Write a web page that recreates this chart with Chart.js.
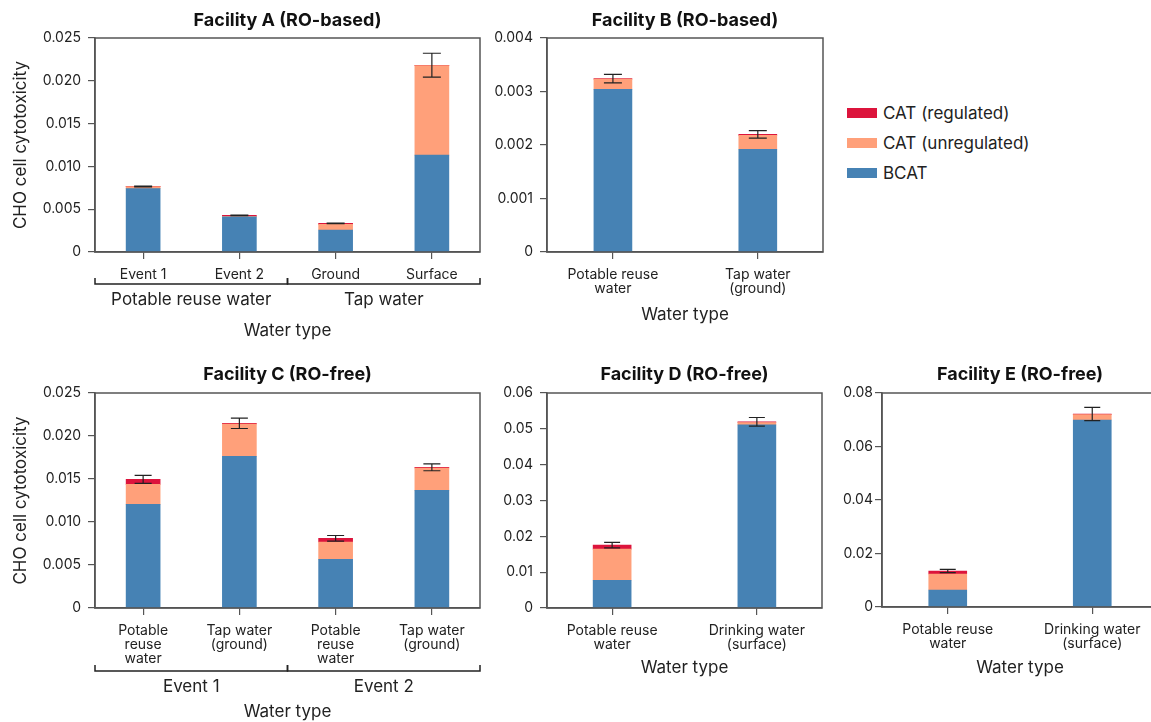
<!DOCTYPE html>
<html>
<head>
<meta charset="utf-8">
<script src="https://cdn.jsdelivr.net/npm/chart.js@4.4.0/dist/chart.umd.min.js"></script>
<style>
  html, body { margin:0; padding:0; background:#fff; width:1151px; height:722px; overflow:hidden; }
  canvas { position:absolute; }
  #legend { position:absolute; left:847px; top:98px; font:17px Inter, "Noto Sans", sans-serif; color:#222; }
  #legend .row { display:flex; align-items:center; height:30px; }
  #legend .sw { width:30px; height:10px; margin-right:6px; }
</style>
</head>
<body>
<canvas id="cA" width="490" height="345" style="left:0;top:0"></canvas>
<canvas id="cB" width="340" height="345" style="left:490px;top:0"></canvas>
<canvas id="cC" width="490" height="377" style="left:0;top:345px"></canvas>
<canvas id="cD" width="340" height="377" style="left:490px;top:345px"></canvas>
<canvas id="cE" width="330" height="377" style="left:830px;top:345px"></canvas>
<div id="legend"></div>
<script>
// series, bottom to top of each stack
const seriesNames = ['BCAT', 'CAT (unregulated)', 'CAT (regulated)'];
const seriesColors = ['#4682b4', '#ffa07a', '#dc143c'];
const legendOrder = [2, 1, 0];

// Facility A (RO-based)
const aLabels = ['Event 1', 'Event 2', 'Ground', 'Surface'];
const aBcat  = [0.0074, 0.0041, 0.00257, 0.01131];
const aUnreg = [0.00023, 0.00008, 0.00066, 0.01046];
const aReg   = [0.00003, 0.0001, 0.00011, 0.00005];
const aErr   = [0.00005, 0.00004, 0.00004, 0.0014];
const aGroups = ['Potable reuse water', 'Tap water'];
const aGroupSpans = [[0, 1], [2, 3]];
const aTicks = [0, 0.005, 0.01, 0.015, 0.02, 0.025];

// Facility B (RO-based)
const bLabels = [['Potable reuse', 'water'], ['Tap water', '(ground)']];
const bBcat  = [0.00304, 0.00192];
const bUnreg = [0.00019, 0.00026];
const bReg   = [0.00001, 0.00002];
const bErr   = [0.00008, 0.00007];
const bTicks = [0, 0.001, 0.002, 0.003, 0.004];

// Facility C (RO-free)
const cLabels = [['Potable', 'reuse', 'water'], ['Tap water', '(ground)'], ['Potable', 'reuse', 'water'], ['Tap water', '(ground)']];
const cBcat  = [0.01205, 0.01764, 0.00566, 0.01368];
const cUnreg = [0.00233, 0.00376, 0.00201, 0.0026];
const cReg   = [0.00058, 0.00007, 0.00043, 0.00008];
const cErr   = [0.00046, 0.0006, 0.00033, 0.0004];
const cGroups = ['Event 1', 'Event 2'];
const cGroupSpans = [[0, 1], [2, 3]];
const cTicks = [0, 0.005, 0.01, 0.015, 0.02, 0.025];

// Facility D (RO-free)
const dLabels = [['Potable reuse', 'water'], ['Drinking water', '(surface)']];
const dBcat  = [0.00774, 0.05112];
const dUnreg = [0.00868, 0.00065];
const dReg   = [0.00112, 0.00019];
const dErr   = [0.00075, 0.0012];
const dTicks = [0, 0.01, 0.02, 0.03, 0.04, 0.05, 0.06];

// Facility E (RO-free)
const eLabels = [['Potable reuse', 'water'], ['Drinking water', '(surface)']];
const eBcat  = [0.00636, 0.0699];
const eUnreg = [0.00598, 0.002];
const eReg   = [0.00112, 0.00025];
const eErr   = [0.0006, 0.0025];
const eTicks = [0, 0.02, 0.04, 0.06, 0.08];

Chart.defaults.font.family = 'Inter, "Noto Sans", sans-serif';
Chart.defaults.color = '#222';

const axisColor = '#555';

// frame, error bars, panel title, group brackets
const extras = {
  id: 'extras',
  afterDatasetsDraw(chart, args, o) {
    const {ctx, chartArea: a, scales: {x, y}} = chart;
    const sets = chart.data.datasets;
    ctx.save();
    ctx.strokeStyle = axisColor;
    ctx.lineWidth = 1.5;
    ctx.strokeRect(a.left, a.top, a.right - a.left, a.bottom - a.top);

    ctx.strokeStyle = '#222';
    ctx.lineWidth = 1.2;
    o.err.forEach((e, i) => {
      const total = sets.reduce((s, d) => s + d.data[i], 0);
      const px = x.getPixelForValue(i);
      const y1 = y.getPixelForValue(total + e);
      const y2 = y.getPixelForValue(total - e);
      const c = o.cap / 2;
      ctx.beginPath();
      ctx.moveTo(px, y1); ctx.lineTo(px, y2);
      ctx.moveTo(px - c, y1); ctx.lineTo(px + c, y1);
      ctx.moveTo(px - c, y2); ctx.lineTo(px + c, y2);
      ctx.stroke();
    });
    ctx.restore();
  },
  afterDraw(chart, args, o) {
    const {ctx, chartArea: a, scales: {x}} = chart;
    ctx.save();
    ctx.fillStyle = '#111';
    ctx.font = 'bold 18px Inter, "Noto Sans", sans-serif';
    ctx.textAlign = 'center';
    ctx.textBaseline = 'middle';
    ctx.fillText(o.title, (a.left + a.right) / 2, o.titleY);

    if (o.groups) {
      ctx.strokeStyle = '#222';
      ctx.lineWidth = 1.5;
      ctx.fillStyle = '#222';
      ctx.font = '17px Inter, "Noto Sans", sans-serif';
      o.groups.forEach((g, k) => {
        const [from, to] = o.spans[k];
        const x1 = x.getPixelForValue(from - 0.5);
        const x2 = x.getPixelForValue(to + 0.5);
        ctx.beginPath();
        ctx.moveTo(x1, o.bracketY - 6); ctx.lineTo(x1, o.bracketY);
        ctx.lineTo(x2, o.bracketY); ctx.lineTo(x2, o.bracketY - 6);
        ctx.stroke();
        ctx.fillText(g, (x1 + x2) / 2, o.groupY);
      });
    }
    ctx.restore();
  }
};

function panel(id, p) {
  const stacks = [p.bcat, p.unreg, p.reg];
  return new Chart(document.getElementById(id), {
    type: 'bar',
    data: {
      labels: p.labels.map((_, i) => i),
      datasets: stacks.map((v, k) => ({
        label: seriesNames[k],
        data: v,
        backgroundColor: seriesColors[k],
        borderWidth: 0,
        barThickness: p.barW
      }))
    },
    options: {
      responsive: false,
      animation: false,
      layout: { padding: { top: p.padTop, right: p.padRight, bottom: 0, left: 0 } },
      plugins: {
        legend: { display: false },
        tooltip: { enabled: false },
        extras: {
          title: p.title, titleY: p.titleY, err: p.err, cap: p.cap,
          groups: p.groups, spans: p.spans, bracketY: p.bracketY, groupY: p.groupY
        }
      },
      scales: {
        x: {
          type: 'linear',
          stacked: true,
          offset: false,
          min: p.xMin,
          max: p.xMax,
          afterBuildTicks: s => { s.ticks = p.labels.map((_, i) => ({ value: i })); },
          afterFit: s => { s.height = p.xH; },
          grid: { drawOnChartArea: false, drawTicks: true, tickLength: 7, offset: false, color: axisColor, lineWidth: 1.2 },
          border: { color: axisColor, width: 1.5 },
          ticks: {
            padding: 9, maxRotation: 0, autoSkip: false, color: '#222',
            font: { size: 14, lineHeight: 1 },
            callback: v => p.labels[v]
          },
          title: { display: true, text: 'Water type', color: '#222', font: { size: 17 }, padding: { top: 0, bottom: p.xTitlePad } }
        },
        y: {
          stacked: true,
          min: 0,
          max: p.ticks[p.ticks.length - 1],
          afterBuildTicks: s => { s.ticks = p.ticks.map(v => ({ value: v })); },
          afterFit: s => { s.width = p.yW; },
          grid: { drawOnChartArea: false, tickLength: 7, color: axisColor, lineWidth: 1.2 },
          border: { color: axisColor, width: 1.5 },
          ticks: {
            padding: p.yPad, color: '#222', font: { size: 14 },
            callback: v => v === 0 ? '0' : v.toFixed(p.dec)
          },
          title: {
            display: !!p.yTitle, text: p.yTitle, color: '#222',
            font: { size: 17 }, padding: { top: 11, bottom: 0 }
          }
        }
      }
    },
    plugins: [extras]
  });
}

panel('cA', {
  title: 'Facility A (RO-based)', titleY: 21, labels: aLabels,
  bcat: aBcat, unreg: aUnreg, reg: aReg, err: aErr, ticks: aTicks, dec: 3,
  groups: aGroups, spans: aGroupSpans, bracketY: 284, groupY: 300,
  xMin: -0.5, xMax: 3.5, barW: 34, cap: 18,
  padTop: 38, padRight: 10, xH: 93, yW: 95, yPad: 7, xTitlePad: 3.8,
  yTitle: 'CHO cell cytotoxicity'
});

panel('cB', {
  title: 'Facility B (RO-based)', titleY: 21, labels: bLabels,
  bcat: bBcat, unreg: bUnreg, reg: bReg, err: bErr, ticks: bTicks, dec: 3,
  xMin: -0.455, xMax: 1.45, barW: 38, cap: 18,
  padTop: 38, padRight: 7, xH: 93, yW: 57, yPad: 7, xTitlePad: 19.8
});

panel('cC', {
  title: 'Facility C (RO-free)', titleY: 30, labels: cLabels,
  bcat: cBcat, unreg: cUnreg, reg: cReg, err: cErr, ticks: cTicks, dec: 3,
  groups: cGroups, spans: cGroupSpans, bracketY: 326, groupY: 342,
  xMin: -0.5, xMax: 3.5, barW: 34, cap: 17,
  padTop: 48, padRight: 10, xH: 114, yW: 95, yPad: 7, xTitlePad: 0,
  yTitle: 'CHO cell cytotoxicity'
});

panel('cD', {
  title: 'Facility D (RO-free)', titleY: 30, labels: dLabels,
  bcat: dBcat, unreg: dUnreg, reg: dReg, err: dErr, ticks: dTicks, dec: 2,
  xMin: -0.45, xMax: 1.45, barW: 38, cap: 16,
  padTop: 48, padRight: 8, xH: 114, yW: 57, yPad: 7, xTitlePad: 43.8
});

panel('cE', {
  title: 'Facility E (RO-free)', titleY: 30, labels: eLabels,
  bcat: eBcat, unreg: eUnreg, reg: eReg, err: eErr, ticks: eTicks, dec: 2,
  xMin: -0.455, xMax: 1.455, barW: 38, cap: 16,
  padTop: 48, padRight: 2, xH: 115, yW: 52, yPad: 2, xTitlePad: 43.8
});

// shared legend
const legend = document.getElementById('legend');
legendOrder.forEach(k => {
  const row = document.createElement('div');
  row.className = 'row';
  const sw = document.createElement('span');
  sw.className = 'sw';
  sw.style.background = seriesColors[k];
  const txt = document.createElement('span');
  txt.textContent = seriesNames[k];
  row.appendChild(sw);
  row.appendChild(txt);
  legend.appendChild(row);
});
</script>
</body>
</html>
